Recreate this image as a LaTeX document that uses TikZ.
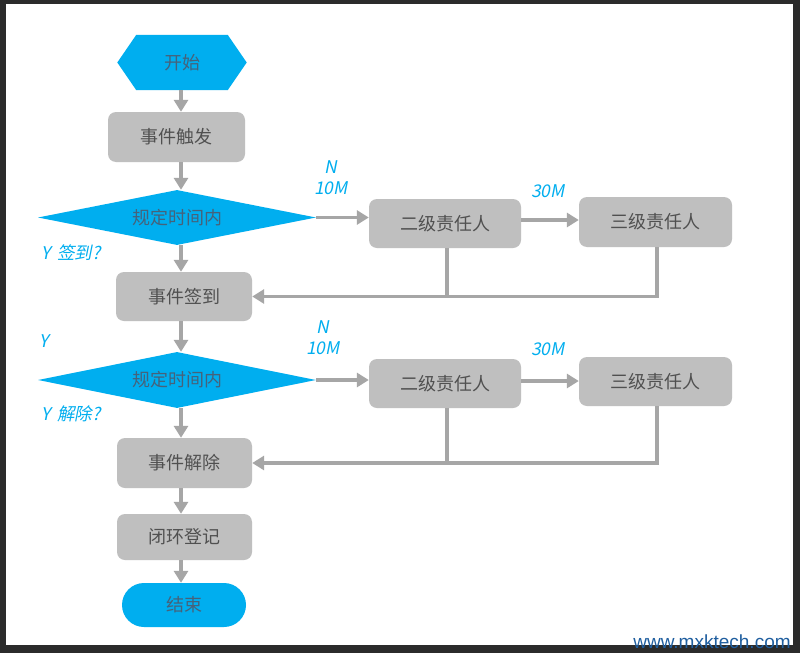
\documentclass[tikz,border=0pt]{standalone}
\usepackage{fontspec}
\setmainfont{Noto Sans CJK SC}
\newfontfamily\labfont[FakeSlant=0.2]{Noto Sans CJK SC}
\newfontfamily\wmfont{Liberation Sans}
\usetikzlibrary{arrows.meta,shapes.geometric,backgrounds}
\definecolor{cblue}{HTML}{00AEEF}
\definecolor{cgray}{HTML}{BFBFBF}
\definecolor{cline}{HTML}{A6A6A6}
\definecolor{ctext}{HTML}{505050}
\definecolor{cbtext}{HTML}{46627A}
\definecolor{cframe}{HTML}{2B2B2B}
\definecolor{cwm}{HTML}{1F5E9F}
\begin{document}
\begin{tikzpicture}[x=1pt,y=-1pt,
  boxn/.style={rectangle, rounded corners=8pt, fill=cgray, text=ctext, minimum width=#1, inner sep=0pt, font=\fontsize{18}{18}\selectfont},
  boxn/.default=136pt,
  dec/.style={diamond, aspect=5, fill=cblue, text=cbtext, minimum width=278pt, minimum height=55pt, inner sep=0pt, font=\fontsize{18}{18}\selectfont},
  term/.style={rectangle, inner sep=0pt, text=cbtext, font=\fontsize{18}{18}\selectfont},
  lab/.style={text=cblue, inner sep=0pt, align=center, font=\labfont\fontsize{17.5}{21}\selectfont},
  conn/.style={draw=cline, line width=3.3pt, -{Triangle[length=12pt,width=14pt]}},
  plain/.style={draw=cline, line width=3.3pt},
]
\useasboundingbox (0,0) rectangle (800,653);
% nodes of main column
\node[term, minimum width=129pt, minimum height=55pt] (start) at (182,62.5) {开始};
\node[boxn=137pt, minimum height=50pt] (trigger) at (176.5,137) {事件触发};
\node[dec] (d1) at (177,217.5) {规定时间内};
\node[boxn=136pt, minimum height=49pt] (sign) at (184,296.5) {事件签到};
\node[dec, minimum height=56pt] (d2) at (177,380) {规定时间内};
\node[boxn=135pt, minimum height=50pt] (release) at (184.5,463) {事件解除};
\node[boxn=135pt, minimum height=46pt] (close) at (184.5,537) {闭环登记};
\node[term, fill=cblue, rounded corners=22pt, minimum width=124pt, minimum height=44pt] (end) at (184,605) {结束};
% right boxes
\node[boxn=152pt, minimum height=49pt] (l2a) at (445,223.5) {二级责任人};
\node[boxn=153pt, minimum height=50pt] (l3a) at (655.5,222) {三级责任人};
\node[boxn=152pt, minimum height=49pt] (l2b) at (445,383.5) {二级责任人};
\node[boxn=153pt, minimum height=49pt] (l3b) at (655.5,381.5) {三级责任人};
% background: frame and hexagon
\begin{pgfonlayer}{background}
\fill[cframe] (0,0) rectangle (800,653);
\fill[white] (6,4) rectangle (793,645);
\fill[cblue] ([xshift=19pt]start.north west) -- ([xshift=-19pt]start.north east) -- (start.east)
  -- ([xshift=-19pt]start.south east) -- ([xshift=19pt]start.south west) -- (start.west) -- cycle;
\end{pgfonlayer}
% column
\coordinate (col) at (181,0);
\draw[conn] (col |- start.south) -- (col |- trigger.north);
\draw[conn] (col |- trigger.south) -- (col |- d1.north);
\draw[conn] (col |- d1.south) -- (col |- sign.north);
\draw[conn] (col |- sign.south) -- (col |- d2.north);
\draw[conn] (col |- d2.south) -- (col |- release.north);
\draw[conn] (col |- release.south) -- (col |- close.north);
\draw[conn] (col |- close.south) -- (col |- end.north);
% row 1
\draw[conn] (d1.east) -- (d1.east -| l2a.west);
\draw[conn] ([yshift=3.5pt]l2a.east) -- ([yshift=3.5pt]l2a.east -| l3a.west);
\draw[plain] ([xshift=2pt]l2a.south) -- ([xshift=2pt]l2a.south |- sign.east);
\draw[conn] ([xshift=1.5pt]l3a.south) |- (sign.east);
% row 2
\draw[conn] (d2.east) -- (d2.east -| l2b.west);
\draw[conn] ([yshift=2.5pt]l2b.east) -- ([yshift=2.5pt]l2b.east -| l3b.west);
\draw[plain] ([xshift=2pt]l2b.south) -- ([xshift=2pt]l2b.south |- release.east);
\draw[conn] ([xshift=1.5pt]l3b.south) |- (release.east);
% labels
\node[lab] (n1) at (331,178) {N\\10M};
\node[lab] (m1) at (548,191) {30M};
\node[lab] (y1) at (71,253) {Y\, 签到?};
\node[lab] (y0) at (44,341) {Y};
\node[lab] (n2) at (323,338) {N\\10M};
\node[lab] (m2) at (548,349) {30M};
\node[lab] (y2) at (71,414) {Y\, 解除?};
% watermark
\node[text=cwm, inner sep=0pt, font=\wmfont\fontsize{19}{19}\selectfont] (wm) at (712,642) {www.mxktech.com};
\end{tikzpicture}
\end{document}
